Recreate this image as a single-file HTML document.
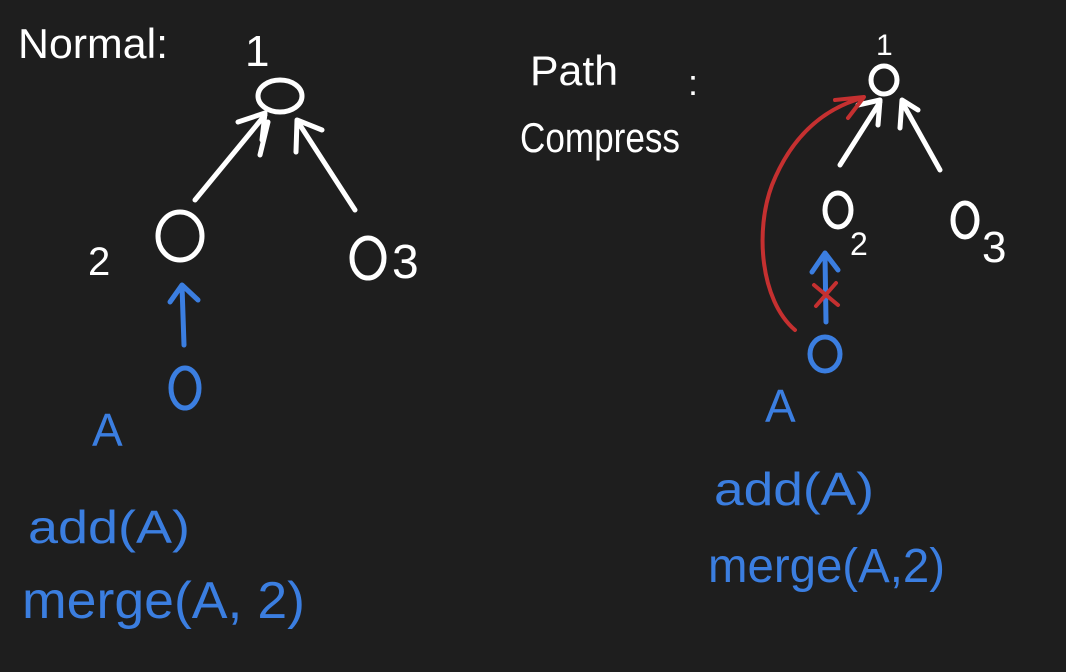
<!DOCTYPE html>
<html><head><meta charset="utf-8"><style>
html,body{margin:0;padding:0;background:#1e1e1e;}
svg{display:block;}
text{font-family:"Liberation Sans",sans-serif;}
</style></head><body>
<svg width="1066" height="672" viewBox="0 0 1066 672">
<rect width="1066" height="672" fill="#1e1e1e"/>
<g fill="none" stroke="#ffffff" stroke-width="5" stroke-linecap="round" stroke-linejoin="round">
  <ellipse cx="280" cy="96" rx="22" ry="16"/>
  <path d="M195 200 L265 115 M238 122 L265 113 L262 140"/>
  <path d="M268 122 L260 155"/>
  <path d="M355 210 L298 122 M296 152 L297 120 L322 130"/>
  <ellipse cx="180" cy="236" rx="22" ry="24"/>
  <ellipse cx="368" cy="258" rx="16" ry="20"/>
  <ellipse cx="884" cy="80" rx="13" ry="14"/>
  <path d="M840 165 L880 102 M858 105 L880 100 L878 125"/>
  <path d="M940 170 L902 102 M900 128 L902 100 L918 110"/>
  <ellipse cx="838" cy="210" rx="13" ry="17"/>
  <ellipse cx="965" cy="220" rx="12" ry="17"/>
</g>
<g fill="#ffffff" font-size="44">
  <text x="18" y="58" font-size="42" textLength="150" lengthAdjust="spacingAndGlyphs">Normal:</text>
  <text x="245" y="66">1</text>
  <text x="88" y="275" font-size="40">2</text>
  <text x="392" y="278" font-size="48">3</text>
  <text x="530" y="85" font-size="42" textLength="88" lengthAdjust="spacingAndGlyphs">Path</text>
  <text x="520" y="152" font-size="42" textLength="160" lengthAdjust="spacingAndGlyphs">Compress</text>
  <text x="688" y="95" font-size="36">:</text>
  <text x="876" y="55" font-size="30">1</text>
  <text x="850" y="255" font-size="32">2</text>
  <text x="982" y="262" font-size="44">3</text>
</g>
<g fill="none" stroke="#3b7ee0" stroke-width="5" stroke-linecap="round" stroke-linejoin="round">
  <path d="M184 345 L182 286 M170 302 L182 285 L198 300"/>
  <ellipse cx="185" cy="388" rx="14" ry="20"/>
  <path d="M826 322 L825 255 M812 272 L825 253 L838 270"/>
  <ellipse cx="825" cy="354" rx="15" ry="17"/>
</g>
<g fill="#3b7ee0" font-size="46">
  <text x="92" y="446">A</text>
  <text x="28" y="543" textLength="162" lengthAdjust="spacingAndGlyphs">add(A)</text>
  <text x="22" y="618" font-size="52" textLength="283" lengthAdjust="spacingAndGlyphs">merge(A, 2)</text>
  <text x="765" y="422">A</text>
  <text x="714" y="505" textLength="160" lengthAdjust="spacingAndGlyphs">add(A)</text>
  <text x="708" y="582" font-size="48" textLength="237" lengthAdjust="spacingAndGlyphs">merge(A,2)</text>
</g>
<g fill="none" stroke="#c53030" stroke-width="4" stroke-linecap="round" stroke-linejoin="round">
  <path d="M795 330 C760 300 755 230 772 185 C790 140 820 110 862 98 M835 100 L864 97 L848 118"/>
  <path d="M814 285 L838 305 M836 283 L816 306"/>
</g>
</svg>
</body></html>
